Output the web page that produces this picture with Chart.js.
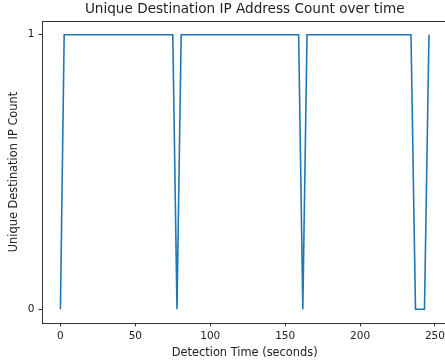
<!DOCTYPE html>
<html>
<head>
<meta charset="utf-8">
<script src="https://cdn.jsdelivr.net/npm/chart.js@4/dist/chart.umd.min.js"></script>
<style>
  html, body { margin: 0; padding: 0; overflow: hidden; background: #fff; }
  #wrap { position: relative; width: 448px; height: 364px; }
</style>
</head>
<body>
<div id="wrap"><canvas id="c"></canvas></div>
<script>
// Detection samples: time (s) and unique destination IP count
const detectionTimes = [0, 2.5, 75, 77.8, 80.6, 159, 161.8, 164.6, 234, 237, 243, 246];
const ipCounts       = [0, 1,   1,  0,    1,    1,   0,     1,     1,   0,   0,   1];
const xTickValues = [0, 50, 100, 150, 200, 250];
const yTickValues = [0, 1];

const points = detectionTimes.map((t, i) => ({ x: t, y: ipCounts[i] }));

// 5% margins around the data range on both axes
const xMinData = Math.min(...detectionTimes), xMaxData = Math.max(...detectionTimes);
const xPad = (xMaxData - xMinData) * 0.05;
const yMinData = Math.min(...ipCounts), yMaxData = Math.max(...ipCounts);
const yPad = (yMaxData - yMinData) * 0.05;

const textColor = '#222';
const axisColor = '#333';
const fontFamily = '"DejaVu Sans", sans-serif';

// Frame around the plotting area, drawn above the line
const framePlugin = {
  id: 'frame',
  afterDatasetsDraw(chart) {
    const { ctx, chartArea: a } = chart;
    ctx.save();
    ctx.strokeStyle = axisColor;
    ctx.lineWidth = 1;
    ctx.strokeRect(Math.round(a.left) + 0.5, Math.round(a.top) + 0.5,
                   Math.round(a.right - a.left), Math.round(a.bottom - a.top));
    ctx.restore();
  }
};

new Chart(document.getElementById('c'), {
  type: 'scatter',
  data: {
    datasets: [{
      data: points,
      showLine: true,
      borderColor: '#1f77b4',
      backgroundColor: '#1f77b4',
      borderWidth: 1.6,
      pointRadius: 0,
      pointHoverRadius: 0,
      tension: 0
    }]
  },
  options: {
    responsive: true,
    maintainAspectRatio: false,
    animation: false,
    events: [],
    layout: { padding: { left: 0, right: 0, top: 0, bottom: 0 } },
    plugins: {
      legend: { display: false },
      tooltip: { enabled: false },
      title: {
        display: true,
        text: 'Unique Destination IP Address Count over time',
        color: textColor,
        fullSize: false,
        font: { family: fontFamily, size: 13.6, weight: 'normal' },
        padding: { top: 1, bottom: 3.7 }
      }
    },
    scales: {
      x: {
        type: 'linear',
        min: xMinData - xPad,
        max: xMaxData + xPad,
        afterBuildTicks(scale) { scale.ticks = xTickValues.map(v => ({ value: v })); },
        afterFit(scale) { scale.height = 41; },
        border: { display: false },
        grid: { drawOnChartArea: false, drawTicks: true, tickLength: 3.5, color: axisColor, lineWidth: 1 },
        ticks: {
          color: textColor, padding: 3, maxRotation: 0, autoSkip: false,
          font: { family: fontFamily, size: 10.5 }
        },
        title: {
          display: true, text: 'Detection Time (seconds)', color: textColor,
          font: { family: fontFamily, size: 11.4 },
          padding: { top: 0, bottom: 4.5 }
        }
      },
      y: {
        type: 'linear',
        min: yMinData - yPad,
        max: yMaxData + yPad,
        afterBuildTicks(scale) { scale.ticks = yTickValues.map(v => ({ value: v })); },
        afterFit(scale) { scale.width = 42; },
        border: { display: false },
        grid: { drawOnChartArea: false, drawTicks: true, tickLength: 3.5, color: axisColor, lineWidth: 1 },
        ticks: {
          color: textColor, padding: 4, autoSkip: false,
          font: { family: fontFamily, size: 10.5 }
        },
        title: {
          display: true, text: 'Unique Destination IP Count', color: textColor,
          font: { family: fontFamily, size: 11.4 },
          padding: { top: 7.2, bottom: 0 }
        }
      }
    }
  },
  plugins: [framePlugin]
});
</script>
</body>
</html>
